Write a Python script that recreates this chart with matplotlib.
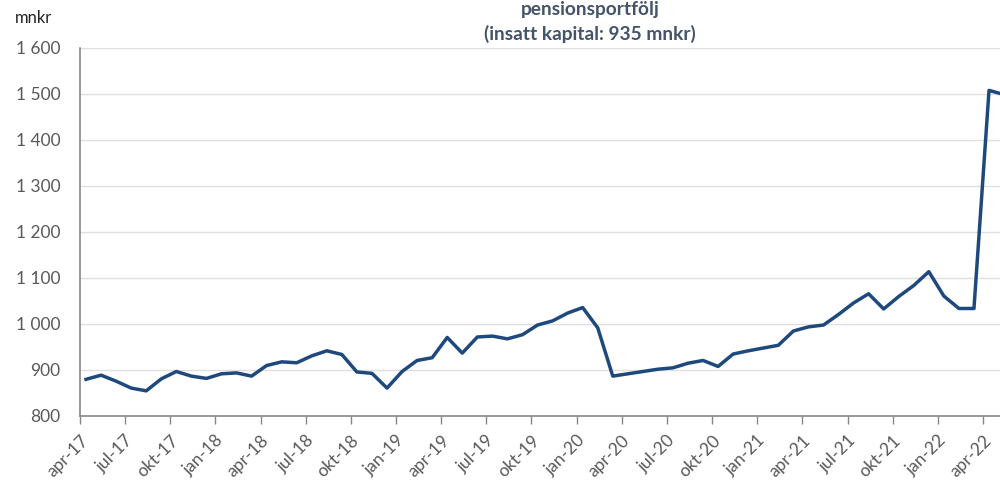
import matplotlib.pyplot as plt
import numpy as np

plt.rcParams['font.family'] = ['Lato', 'DejaVu Sans']

# månadsvärden apr-17 .. maj-22 (mnkr)
months = ['jan', 'feb', 'mar', 'apr', 'maj', 'jun', 'jul', 'aug', 'sep', 'okt', 'nov', 'dec']
values = [879, 888, 875, 860, 854, 880, 896, 886, 881, 891, 893, 886,
          909, 917, 915, 930, 941, 933, 895, 892, 860, 896, 920, 926,
          970, 936, 971, 973, 967, 976, 997, 1006, 1023, 1035, 991, 886,
          891, 896, 901, 904, 914, 920, 907, 934, 941, 947, 953, 984,
          993, 997, 1020, 1045, 1065, 1032, 1059, 1083, 1113, 1060, 1033, 1033,
          1507, 1498]

start_month, start_year = 4, 2017
labels = []
for i in range(len(values)):
    m = (start_month - 1 + i) % 12
    y = start_year + (start_month - 1 + i) // 12
    labels.append(f"{months[m]}-{y % 100:02d}")

x = np.arange(len(values))

fig = plt.figure(figsize=(10, 4.8), dpi=100)
ax = fig.add_axes([0.08, 0.134, 0.92, 0.7668])

ax.plot(x, values, color='#1F497D', linewidth=2.5, solid_joinstyle='round')

ax.set_ylim(800, 1600)
ax.set_yticks(np.arange(800, 1601, 100))
ax.set_yticklabels([f"{v:,}".replace(',', ' ') for v in range(800, 1601, 100)])
ax.yaxis.grid(True, color='#e0e0e0', linewidth=1)
ax.set_axisbelow(True)

ax.set_xlim(-0.4, 60.73)
tick_idx = list(range(0, 61, 3))
ax.set_xticks([i - 0.4 for i in tick_idx])
ax.set_xticklabels([labels[i] for i in tick_idx], rotation=45, ha='right',
                   rotation_mode='anchor')

for s in ['top', 'right']:
    ax.spines[s].set_visible(False)
for s in ['left', 'bottom']:
    ax.spines[s].set_color('#868686')
    ax.spines[s].set_linewidth(1.2)

ax.tick_params(axis='y', length=0, pad=14, labelsize=12.5, labelcolor='#595959')
ax.tick_params(axis='x', direction='out', length=6, width=1, color='#868686',
               pad=6, labelsize=12.5, labelcolor='#595959')

fig.text(0.015, 0.9625, 'mnkr', fontsize=12, color='#222222', va='center')
fig.text(0.59, 0.997, 'pensionsportfölj', fontsize=13.8, fontweight='bold',
         color='#44546A', ha='center', va='top')
fig.text(0.59, 0.929, '(insatt kapital: 935 mnkr)', fontsize=13.8, fontweight='bold',
         color='#44546A', ha='center', va='center')

fig.savefig('out.png', dpi=100)
